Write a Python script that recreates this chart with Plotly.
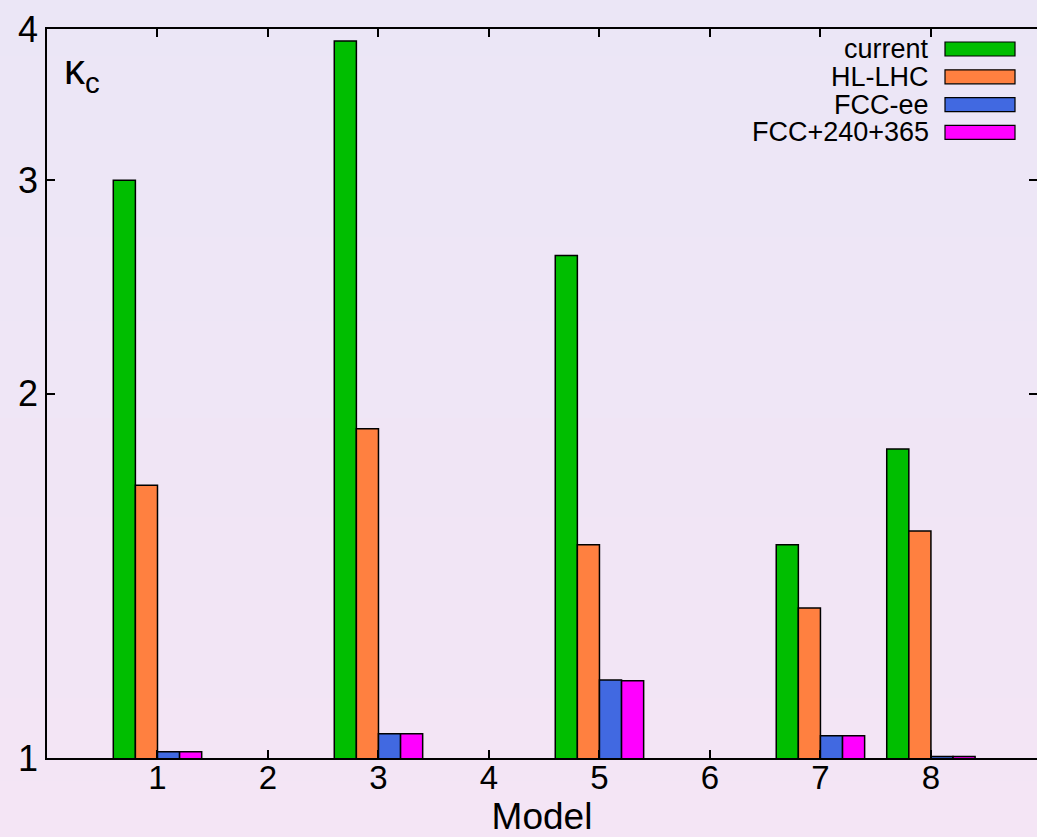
import plotly.graph_objects as go

# Coupling modifier kappa_c per model, for each collider scenario
models = [1, 2, 3, 4, 5, 6, 7, 8]
current = [3.0, None, 3.91, None, 2.60, None, 1.50, 1.80]
hl_lhc = [1.68, None, 1.87, None, 1.50, None, 1.33, 1.54]
fcc_ee = [1.012, None, 1.047, None, 1.16, None, 1.043, 1.003]
fcc_240_365 = [1.012, None, 1.047, None, 1.158, None, 1.043, 1.003]

series_names = ["current", "HL-LHC", "FCC-ee", "FCC+240+365"]
series_values = [current, hl_lhc, fcc_ee, fcc_240_365]
series_colors = ["#00BE00", "#FF8040", "#4169E1", "#FF00FF"]

y_ticks = [1, 2, 3, 4]

W, H = 1037, 837
ML, MR, MT, MB = 47, 0, 29, 79
PW, PH = W - ML - MR, H - MT - MB

FONT = "Liberation Sans, Arial, Helvetica, sans-serif"

fig = go.Figure()
for name, vals, col in zip(series_names, series_values, series_colors):
    fig.add_trace(go.Bar(
        x=models, y=vals, name=name,
        marker=dict(color=col, line=dict(color="black", width=1.5)),
        showlegend=False,
    ))

# invisible trace carrying the mirrored right-hand ticks
fig.add_trace(go.Scatter(x=[None], y=[None], yaxis="y2", showlegend=False))

# soft vertical background gradient over the whole page
top_rgb = (235, 230, 246)
bot_rgb = (244, 229, 245)
n_strips = 60
y_lo = -MB / PH
y_hi = 1 + MT / PH
shapes = []
for i in range(n_strips):
    t = i / (n_strips - 1)
    r = round(bot_rgb[0] + (top_rgb[0] - bot_rgb[0]) * t)
    g = round(bot_rgb[1] + (top_rgb[1] - bot_rgb[1]) * t)
    b = round(bot_rgb[2] + (top_rgb[2] - bot_rgb[2]) * t)
    y0 = y_lo + (y_hi - y_lo) * i / n_strips
    y1 = y_lo + (y_hi - y_lo) * (i + 1) / n_strips + 0.002
    shapes.append(dict(type="rect", xref="paper", yref="paper",
                       x0=-ML / PW - 0.01, x1=1.01, y0=y0, y1=y1,
                       fillcolor=f"rgb({r},{g},{b})", line=dict(width=0),
                       layer="below"))

# key in the top-right corner: labels right-aligned, swatches to the right
annotations = []
for k, (name, col) in enumerate(zip(series_names, series_colors)):
    py = 49 + k * 27.8
    yp = (H - MB - py) / PH
    shapes.append(dict(type="rect", xref="paper", yref="paper",
                       x0=(945 - ML) / PW, x1=(1015 - ML) / PW,
                       y0=yp - 7 / PH, y1=yp + 7 / PH,
                       fillcolor=col, line=dict(color="black", width=1.2)))
    annotations.append(dict(xref="paper", yref="paper",
                            x=(931 - ML) / PW, y=yp, text=name,
                            xanchor="right", yanchor="middle", showarrow=False,
                            font=dict(size=27, color="black", family=FONT)))

annotations.append(dict(xref="paper", yref="paper",
                        x=(62 - ML) / PW, y=(H - MB - 72) / PH,
                        text="κ<sub>c</sub>", xanchor="left", yanchor="middle",
                        showarrow=False,
                        font=dict(size=42, color="black", family=FONT)))

fig.update_layout(
    width=W, height=H,
    margin=dict(l=ML, r=MR, t=MT, b=MB, pad=0),
    paper_bgcolor="rgba(0,0,0,0)",
    plot_bgcolor="rgba(0,0,0,0)",
    barmode="group", bargap=0.2, bargroupgap=0,
    font=dict(family=FONT, color="black"),
    shapes=shapes, annotations=annotations,
    xaxis=dict(
        range=[0, 8.96], tickmode="array", tickvals=models,
        ticktext=[str(m) for m in models],
        ticks="inside", ticklen=8, tickwidth=1.5, tickcolor="black",
        showline=True, linecolor="black", linewidth=1.5, mirror="ticks",
        showgrid=False, zeroline=False, ticklabelstandoff=-10,
        tickfont=dict(size=33, family=FONT),
        title=dict(text="Model", font=dict(size=37, family=FONT), standoff=0),
    ),
    yaxis=dict(
        type="log", range=[0, 0.60206], tickmode="array",
        tickvals=y_ticks, ticktext=[str(v) for v in y_ticks],
        ticks="inside", ticklen=8, tickwidth=1.5, tickcolor="black",
        showline=True, linecolor="black", linewidth=1.5, mirror=False,
        showgrid=False, zeroline=False,
        tickfont=dict(size=36, family=FONT),
    ),
    yaxis2=dict(
        type="log", range=[0, 0.60206], overlaying="y", side="right",
        tickmode="array", tickvals=y_ticks, showticklabels=False,
        ticks="inside", ticklen=8, tickwidth=1.5, tickcolor="black",
        showline=False, showgrid=False, zeroline=False,
    ),
)

fig.write_html("out.html")
